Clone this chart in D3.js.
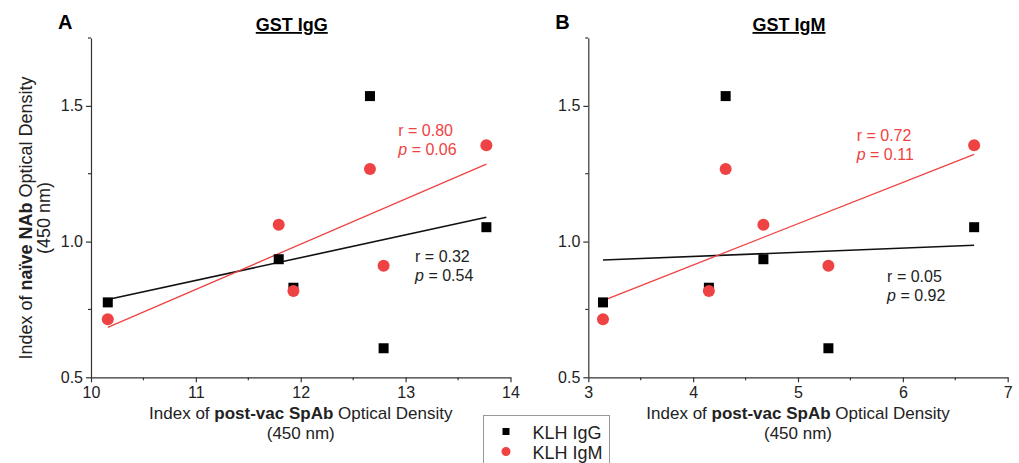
<!DOCTYPE html>
<html>
<head>
<meta charset="utf-8">
<script src="https://cdn.jsdelivr.net/npm/d3@7"></script>
<style>
  body { margin: 0; background: #fff; }
  svg { font-family: "Liberation Sans", Arial, sans-serif; }
  .axis path, .axis line { stroke: #333; stroke-width: 1.2; }
  .axis text { font-size: 16px; fill: #222; font-family: "Liberation Sans", Arial, sans-serif; }
</style>
</head>
<body>
<div class="container"></div>
<script>
const WIDTH = 1019;
const HEIGHT = 463;

// naive NAb optical density index, one value per subject
var naiveIgG = [0.776, 0.935, 0.830, 1.536, 0.607, 1.053];
var naiveIgM = [0.714, 1.062, 0.818, 1.267, 0.911, 1.355];
// post-vac SpAb optical density index, same subject order
var postVacGstIgG = [10.16, 11.79, 11.93, 12.66, 12.79, 13.77];
var postVacGstIgM = [3.14, 4.67, 4.15, 4.31, 5.29, 6.68];

var panelLetters = ['A', 'B'];
var panelTitles = ['GST IgG', 'GST IgM'];
var xDomains = [[10, 14], [3, 7]];
var xTicks = [[10, 11, 12, 13, 14], [3, 4, 5, 6, 7]];
var yTicks = [0.5, 1.0, 1.5];
var seriesNames = ['KLH IgG', 'KLH IgM'];
// [r, p] for KLH IgG and KLH IgM in each panel
var statsIgG = [['0.32', '0.54'], ['0.05', '0.92']];
var statsIgM = [['0.80', '0.06'], ['0.72', '0.11']];
// where the stats labels sit, in data units [x, y]
var statsIgGAt = [[13.09, 0.925], [5.85, 0.851]];
var statsIgMAt = [[12.93, 1.39], [5.56, 1.371]];

var RED = '#ef4242';

var panels = [
    { left: 91, right: 510.5, xs: postVacGstIgG },
    { left: 588.3, right: 1007.7, xs: postVacGstIgM }
];
var TOP = 38, BOTTOM = 377.3;

var fit = function(xs, ys) {
    var mx = d3.mean(xs), my = d3.mean(ys);
    var sxy = d3.sum(xs, (x, i) => (x - mx) * (ys[i] - my));
    var sxx = d3.sum(xs, (x) => (x - mx) * (x - mx));
    var b = sxy / sxx;
    return (x) => my + b * (x - mx);
};

var svg = d3.select('.container').append('svg')
    .attr('width', WIDTH)
    .attr('height', HEIGHT);

var yScale = d3.scaleLinear().domain([0.5, 1.75]).range([BOTTOM, TOP]);

var statsText = function(g, xScale, at, st, color) {
    var t = g.append('text')
        .attr('x', xScale(at[0]))
        .attr('y', yScale(at[1]))
        .attr('fill', color)
        .style('font-size', '16px');
    t.append('tspan').text('r = ' + st[0]);
    var l2 = t.append('tspan').attr('x', xScale(at[0])).attr('dy', 19);
    l2.append('tspan').style('font-style', 'italic').text('p');
    l2.append('tspan').text(' = ' + st[1]);
};

panels.forEach(function(p, i) {
    var xScale = d3.scaleLinear().domain(xDomains[i]).range([p.left, p.right]);

    // minor ticks
    var xMinor = d3.range(xDomains[i][0] + 0.5, xDomains[i][1], 1);
    svg.append('g').selectAll('line').data(xMinor).enter().append('line')
        .attr('x1', (d) => xScale(d)).attr('x2', (d) => xScale(d))
        .attr('y1', BOTTOM).attr('y2', BOTTOM + 3)
        .attr('stroke', '#333').attr('stroke-width', 1.2);
    svg.append('g').selectAll('line').data([0.75, 1.25, 1.75]).enter().append('line')
        .attr('x1', p.left - 3).attr('x2', p.left)
        .attr('y1', (d) => yScale(d)).attr('y2', (d) => yScale(d))
        .attr('stroke', '#333').attr('stroke-width', 1.2);

    svg.append('g')
        .classed('axis', true)
        .attr('transform', `translate(0,${BOTTOM})`)
        .call(d3.axisBottom(xScale).tickValues(xTicks[i]).tickFormat(d3.format('d'))
            .tickSize(5).tickPadding(4).tickSizeOuter(0));

    svg.append('g')
        .classed('axis', true)
        .attr('transform', `translate(${p.left},0)`)
        .call(d3.axisLeft(yScale).tickValues(yTicks).tickFormat(d3.format('.1f'))
            .tickSize(5).tickPadding(3).tickSizeOuter(0));

    // panel letter and title
    svg.append('text')
        .attr('x', p.left - 33).attr('y', 29)
        .style('font-size', '20px').style('font-weight', 'bold')
        .text(panelLetters[i]);
    var mid = (p.left + p.right) / 2 - 9;
    svg.append('text')
        .attr('x', mid).attr('y', 31)
        .attr('text-anchor', 'middle')
        .style('font-size', '18px').style('font-weight', 'bold')
        .style('text-decoration', 'underline')
        .text(panelTitles[i]);

    // x axis title
    var xt = svg.append('text')
        .attr('x', (p.left + p.right) / 2)
        .attr('y', 419)
        .attr('text-anchor', 'middle')
        .attr('fill', '#222')
        .style('font-size', '17px');
    xt.append('tspan').text('Index of ');
    xt.append('tspan').style('font-weight', 'bold').text('post-vac SpAb');
    xt.append('tspan').text(' Optical Density');
    svg.append('text')
        .attr('x', (p.left + p.right) / 2)
        .attr('y', 439)
        .attr('text-anchor', 'middle')
        .attr('fill', '#222')
        .style('font-size', '17px')
        .text('(450 nm)');

    // regression lines
    var fIgG = fit(p.xs, naiveIgG);
    var fIgM = fit(p.xs, naiveIgM);
    var ext = d3.extent(p.xs);
    var line = d3.line().x((d) => xScale(d[0])).y((d) => yScale(d[1]));
    svg.append('path')
        .attr('d', line(ext.map((x) => [x, fIgG(x)])))
        .attr('stroke', '#111').attr('stroke-width', 1.6).attr('fill', 'none');
    svg.append('path')
        .attr('d', line(ext.map((x) => [x, fIgM(x)])))
        .attr('stroke', RED).attr('stroke-width', 1.3).attr('fill', 'none');

    // points
    svg.append('g').selectAll('rect').data(p.xs).enter().append('rect')
        .attr('x', (d) => xScale(d) - 5)
        .attr('y', (d, j) => yScale(naiveIgG[j]) - 5)
        .attr('width', 10).attr('height', 10)
        .attr('fill', '#000');
    svg.append('g').selectAll('circle').data(p.xs).enter().append('circle')
        .attr('cx', (d) => xScale(d))
        .attr('cy', (d, j) => yScale(naiveIgM[j]))
        .attr('r', 6)
        .attr('fill', RED);

    statsText(svg, xScale, statsIgMAt[i], statsIgM[i], RED);
    statsText(svg, xScale, statsIgGAt[i], statsIgG[i], '#222');
});

// y axis title (panel A only)
var yt = svg.append('text')
    .attr('transform', 'translate(32,218) rotate(-90)')
    .attr('text-anchor', 'middle')
    .attr('fill', '#222')
    .style('font-size', '18px');
yt.append('tspan').text('Index of ');
yt.append('tspan').style('font-weight', 'bold').text('naïve NAb');
yt.append('tspan').text(' Optical Density');
svg.append('text')
    .attr('transform', 'translate(50,218) rotate(-90)')
    .attr('text-anchor', 'middle')
    .attr('fill', '#222')
    .style('font-size', '18px')
    .text('(450 nm)');

// legend
var legend = svg.append('g').attr('transform', 'translate(483.5,415.5)');
legend.append('rect')
    .attr('width', 126).attr('height', 60)
    .attr('fill', '#fff').attr('stroke', '#999').attr('stroke-width', 1);
legend.selectAll('g.item').data(seriesNames).enter().append('g')
    .attr('class', 'item')
    .attr('transform', (d, i) => `translate(0,${16 + i * 20})`)
    .each(function(d, i) {
        var g = d3.select(this);
        if (i === 0) {
            g.append('rect').attr('x', 19).attr('y', -3.5).attr('width', 7).attr('height', 7).attr('fill', '#000');
        } else {
            g.append('circle').attr('cx', 22.5).attr('cy', 0).attr('r', 4.5).attr('fill', RED);
        }
        g.append('text').attr('x', 49).attr('y', 7)
            .style('font-size', '18px').attr('fill', '#222').text(d);
    });
</script>
</body>
</html>
